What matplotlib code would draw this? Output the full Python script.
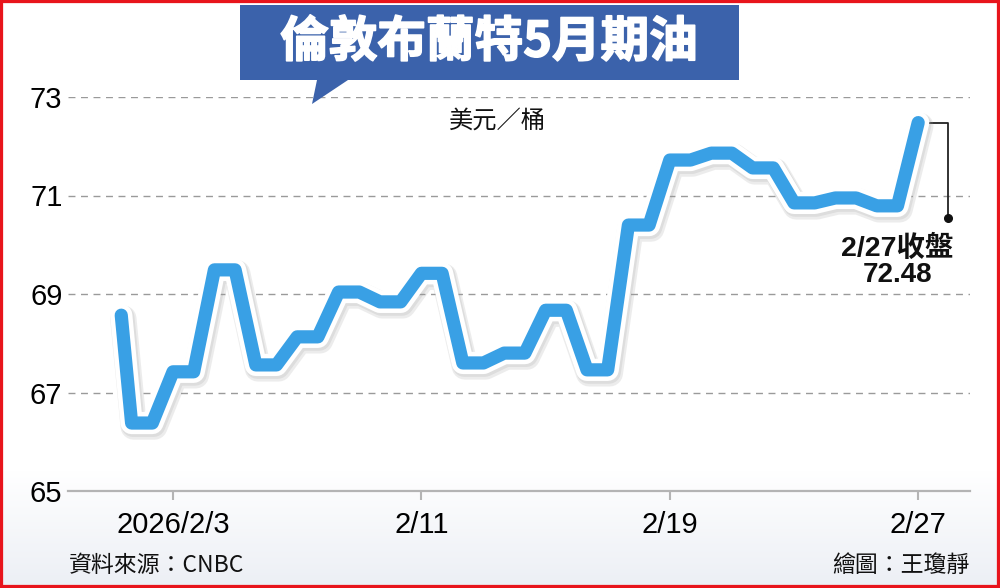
import matplotlib
matplotlib.use("Agg")
import matplotlib.pyplot as plt
import matplotlib.patheffects as pe
from matplotlib.patches import Polygon, Rectangle
import numpy as np

# Brent May futures, USD/bbl, one value per trading day
dates = ["1/30", "2/2", "2/3", "2/4", "2/5", "2/6", "2/9", "2/10", "2/11", "2/12",
         "2/13", "2/16", "2/17", "2/18", "2/19", "2/20", "2/23", "2/24", "2/25",
         "2/26", "2/27"]
prices = [68.57, 66.38, 67.42, 69.49, 67.56, 68.13, 69.04, 68.84, 69.42, 67.60,
          67.80, 68.67, 67.46, 70.40, 71.72, 71.86, 71.56, 70.85, 70.95,
          70.79, 72.48]
tick_dates = ["2/3", "2/11", "2/19", "2/27"]
tick_labels = ["2026/2/3", "2/11", "2/19", "2/27"]
y_ticks = [65, 67, 69, 71, 73]

CJK = "Noto Sans CJK TC"
NUM = "Liberation Sans"
W, H = 1000, 588


def px(x, y):
    return x / W, 1 - y / H


# day index relative to 2026/2/3
day = np.arange(len(dates)) - dates.index("2/3")

# each day drawn as a short plateau, like the printed graphic
xs, ys = [], []
for i, (d, v) in enumerate(zip(day, prices)):
    if i == 0:
        xs += [d + 0.75]
        ys += [v]
    elif i == len(prices) - 1:
        xs += [d]
        ys += [v]
    else:
        xs += [d, d + 0.5]
        ys += [v, v]

fig = plt.figure(figsize=(W / 100, H / 100), dpi=100)
fig.patch.set_facecolor("white")

# soft gradient at the bottom
bg = fig.add_axes([0, 0, 1, 0.2], zorder=-5)
grad = np.linspace(1, 0, 100).reshape(-1, 1)
bg.imshow(grad, aspect="auto", cmap=matplotlib.colors.LinearSegmentedColormap.from_list(
    "g", ["#eceff5", "#ffffff"]), extent=[0, 1, 0, 1])
bg.axis("off")

ax = fig.add_axes([68 / W, (H - 491) / H, 902 / W, 394 / H])
ax.set_facecolor("none")
ax.set_xlim((68 - 173) / 41.4, (970 - 173) / 41.4)
ax.set_ylim(65, 73)

for v in y_ticks[1:]:
    ax.axhline(v, color="#9a9a9a", lw=1.0, ls=(0, (5, 4)), zorder=1)

ax.plot(xs, ys, color="#39a0e5", lw=9.5, solid_capstyle="round",
        solid_joinstyle="round", zorder=3, clip_on=False,
        path_effects=[pe.SimpleLineShadow(offset=(1.5, -2.5), shadow_color="#999999",
                                          alpha=0.18, linewidth=19),
                      pe.SimpleLineShadow(offset=(1, -1.5), shadow_color="#999999",
                                          alpha=0.18, linewidth=17),
                      pe.Stroke(linewidth=16, foreground="white"),
                      pe.Normal()])

for s in ["top", "left", "right"]:
    ax.spines[s].set_visible(False)
ax.spines["bottom"].set_color("#b4b4b4")
ax.spines["bottom"].set_linewidth(1.6)

ax.set_xticks([day[dates.index(d)] for d in tick_dates])
ax.set_xticklabels(tick_labels, fontsize=21, family=NUM)
ax.tick_params(axis="x", length=6.5, width=1.5, color="#b4b4b4", pad=8)
ax.set_yticks(y_ticks)
ax.set_yticklabels([str(v) for v in y_ticks], fontsize=21, family=NUM)
ax.tick_params(axis="y", length=0, pad=4)

# last close callout
last_x, last_y = day[-1], prices[-1]
ax.plot([last_x + 0.12, last_x + 0.72, last_x + 0.72],
        [last_y, last_y, 70.55], color="#222222", lw=1.3, clip_on=False, zorder=2)
ax.plot([last_x + 0.72], [70.55], "o", color="#111111", ms=5.5, clip_on=False, zorder=2)
ax.text(last_x - 0.5, 69.93, f"{dates[-1]}收盤", ha="center", va="center",
        fontsize=20.5, fontweight="bold", family=[NUM, CJK], color="#111111")
ax.text(last_x - 0.5, 69.38, f"{last_y:.2f}", ha="center", va="center",
        fontsize=20, fontweight="bold", family=NUM, color="#111111")

# title banner with speech pointer
box = [px(240, 5), px(739, 5), px(739, 80), px(348, 80), px(312, 104),
       px(317, 80), px(240, 80)]
fig.patches.append(Polygon(box, closed=True, transform=fig.transFigure,
                           facecolor="#3b62ab", edgecolor="none", zorder=5))
fig.text(*px(489, 42), "倫敦布蘭特5月期油", ha="center", va="center", color="white",
         fontsize=35, fontweight="black", family=CJK, zorder=6,
         path_effects=[pe.Stroke(linewidth=1.2, foreground="white"), pe.Normal()])

fig.text(*px(497, 121), "美元／桶", ha="center", va="center", fontsize=17.5,
         family=CJK, color="#111111")
fig.text(*px(69, 565), "資料來源：CNBC", ha="left", va="center", fontsize=16.5,
         family=CJK, color="#111111")
fig.text(*px(969, 565), "繪圖：王瓊靜", ha="right", va="center", fontsize=16.5,
         family=CJK, color="#111111")

# red frame
fig.patches.append(Rectangle((0, 0), 1, 1, transform=fig.transFigure, fill=False,
                             edgecolor="#e8141c", linewidth=4.5, zorder=10))

fig.savefig("out.png", dpi=100)
